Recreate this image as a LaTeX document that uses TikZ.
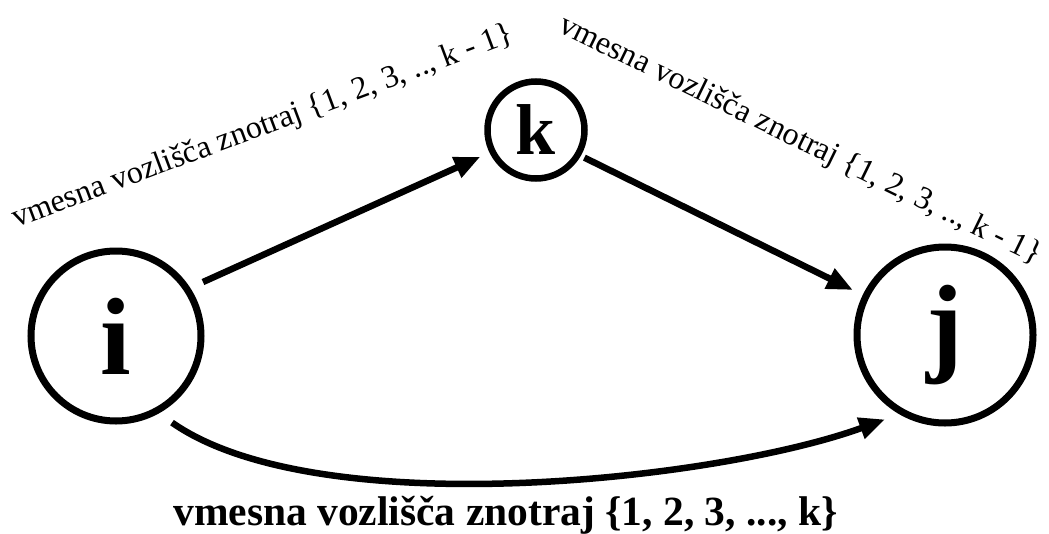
\documentclass[tikz,border=0pt]{standalone}
\usepackage{fontspec}
\setmainfont{Liberation Serif}
\usetikzlibrary{arrows.meta}
\begin{document}
\begin{tikzpicture}[x=1pt,y=1pt,
  vert/.style={circle, draw, line width=7pt, inner sep=0pt},
  arr/.style={line width=6.5pt, -{Triangle[length=26pt,width=21pt]}},
  lbl/.style={font=\fontsize{32}{32}\selectfont, inner sep=0pt},
  bot/.style={font=\fontsize{41.5}{41.5}\selectfont\bfseries, inner sep=0pt}]
\useasboundingbox (0,0) rectangle (1049,-533);
\node[vert, minimum size=170pt, font=\fontsize{110}{110}\selectfont\bfseries] (i) at (116,-336) {i};
\node[vert, minimum size=176pt, font=\fontsize{110}{110}\selectfont\bfseries] (j) at (945,-335) {j};
\node[vert, line width=6.5pt, minimum size=97pt, font=\fontsize{72}{72}\selectfont\bfseries] (k) at (536,-130) {k};
\draw[arr, shorten <=14pt, shorten >=10pt] (i.33) -- (k.206);
\draw[arr, shorten <=4pt, shorten >=11pt] (k.-30) -- (j.154);
\draw[arr, shorten <=16pt, shorten >=15pt] (i.-61) to[out=-35, in=200, looseness=0.67] (j.-120);
\node[lbl, rotate=20.5, anchor=base west] (la) at (16,-228) {vmesna vozlišča znotraj \{1, 2, 3, .., k - 1\}};
\node[lbl, rotate=-26, anchor=base west] (lb) at (557,-31) {vmesna vozlišča znotraj \{1, 2, 3, .., k - 1\}};
\node[bot, anchor=base] (lc) at (505.5,-525) {vmesna vozlišča znotraj \{1, 2, 3, ..., k\}};
\end{tikzpicture}
\end{document}
